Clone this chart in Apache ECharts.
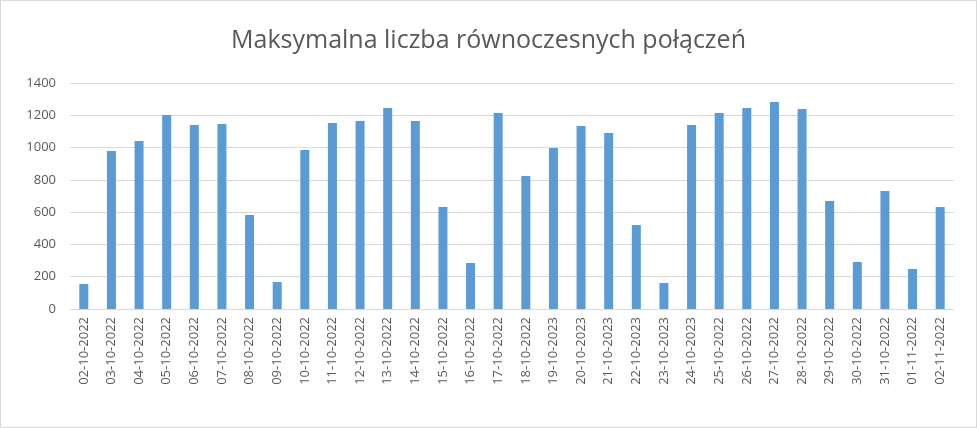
<!DOCTYPE html><html><head><meta charset="utf-8"><script src="https://cdn.jsdelivr.net/npm/echarts@6/dist/echarts.min.js"></script>
<style>html,body{margin:0;background:#fff}#c{width:975px;height:426px;border:1px solid #d9d9d9}</style></head><body><div id="c"></div><script>
const categories=["02-10-2022","03-10-2022","04-10-2022","05-10-2022","06-10-2022","07-10-2022","08-10-2022","09-10-2022","10-10-2022","11-10-2022","12-10-2022","13-10-2022","14-10-2022","15-10-2022","16-10-2022","17-10-2022","18-10-2022","19-10-2023","20-10-2023","21-10-2023","22-10-2023","23-10-2023","24-10-2023","25-10-2022","26-10-2022","27-10-2022","28-10-2022","29-10-2022","30-10-2022","31-10-2022","01-11-2022","02-11-2022"];
const values=[155,979,1041,1202,1140,1146,582,167,985,1152,1165,1245,1165,632,285,1214,824,997,1134,1090,520,161,1140,1214,1245,1282,1239,669,291,731,248,632];
const chart=echarts.init(document.getElementById('c'));
chart.setOption({
title:{text:'Maksymalna liczba równoczesnych połączeń',left:'center',top:22,textStyle:{fontFamily:'Open Sans',fontSize:25,fontWeight:'normal',color:'#595959'}},
grid:{left:69,right:22,top:82,bottom:118},
xAxis:{type:'category',data:categories,axisTick:{show:false},axisLine:{lineStyle:{color:'#d9d9d9'}},axisLabel:{rotate:90,interval:0,color:'#595959',fontSize:13,fontFamily:'Open Sans'}},
yAxis:{type:'value',min:0,max:1400,interval:200,axisLabel:{color:'#595959',fontSize:13,fontFamily:'Open Sans',margin:14,formatter:v=>String(v)},splitLine:{lineStyle:{color:'#d9d9d9'}}},
series:[{type:'bar',data:values,barWidth:9,itemStyle:{color:'#5b9bd5'}}],
animation:false});
</script></body></html>
